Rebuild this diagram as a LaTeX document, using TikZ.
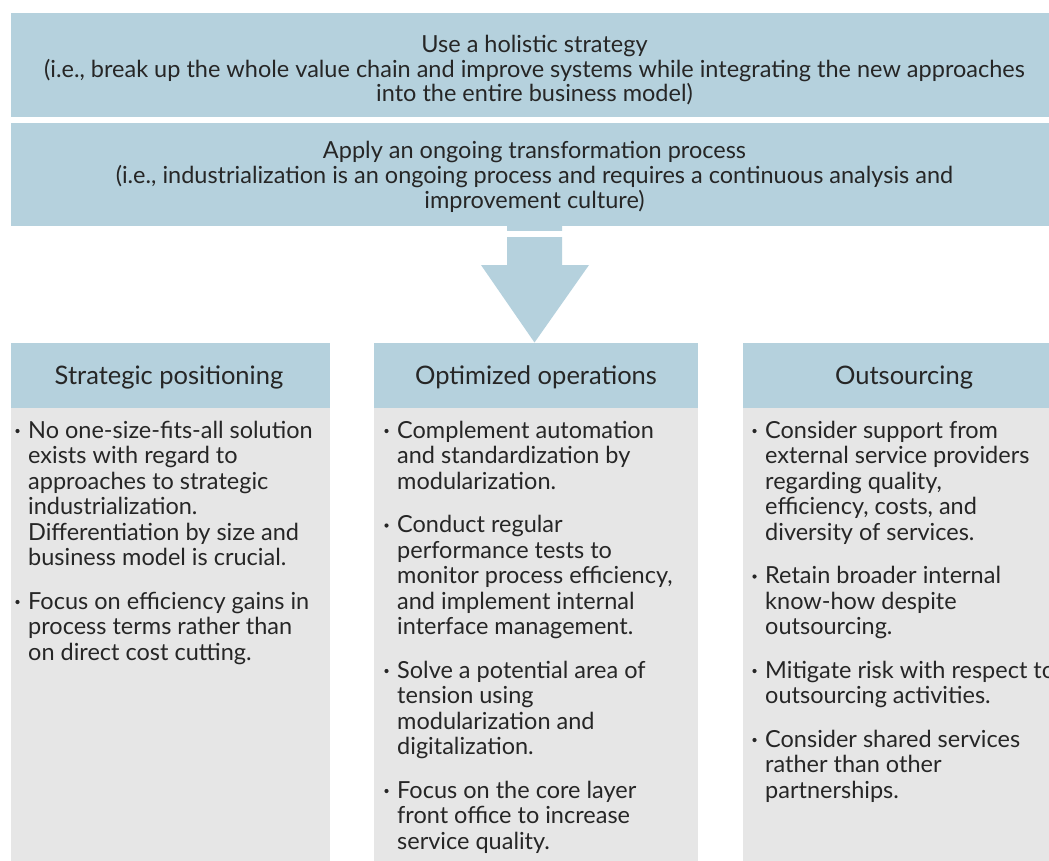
\documentclass[tikz,border=0pt]{standalone}
\usepackage{fontspec}
\setmainfont{Lato}
\definecolor{hblue}{RGB}{181,209,221}
\definecolor{bgray}{RGB}{230,230,230}
\definecolor{ink}{RGB}{38,38,38}
\tikzset{
  blk/.style={draw=none, inner sep=0pt, outer sep=0pt, anchor=north west},
  txt/.style={inner sep=0pt, anchor=base west, text=ink, font=\fontsize{23.5}{25}\selectfont},
  toptxt/.style={inner sep=0pt, anchor=base, text=ink, font=\fontsize{23.5}{24}\selectfont},
  hdtxt/.style={inner sep=0pt, anchor=base, text=ink, font=\fontsize{25.5}{26}\selectfont},
  bul/.style={circle, fill=ink, inner sep=0pt, minimum size=4.2pt}
}
\newcommand\bitem[4]{%
  \node[bul] (#1b) at (#2-10.5,#3-7) {};
  \foreach \t [count=\i] in {#4} \node[txt] (#1l\i) at (#2, #3+\i*25.5-25.5) {\t};
}
\begin{document}
\begin{tikzpicture}[x=1pt,y=-1pt]
\clip (0,0) rectangle (1049,860);
\fill[white] (0,0) rectangle (1049,860);
% top boxes
\node[blk, fill=hblue, minimum width=1049pt, minimum height=104pt] (top1) at (10.5,13) {};
\node[blk, fill=hblue, minimum width=1049pt, minimum height=103pt] (top2) at (10.5,123) {};
\node[toptxt] (t1a) at (534.5,52.5) {Use a holistic strategy};
\node[toptxt] (t1b) at (534.5,77) {(i.e., break up the whole value chain and improve systems while integrating the new approaches};
\node[toptxt] (t1c) at (534.5,101.5) {into the entire business model)};
\node[toptxt] (t2a) at (534.5,158.5) {Apply an ongoing transformation process};
\node[toptxt] (t2b) at (534.5,183.5) {(i.e., industrialization is an ongoing process and requires a continuous analysis and};
\node[toptxt] (t2c) at (534.5,208) {improvement culture)};
% column headers and bodies
\node[blk, fill=hblue, minimum width=319.5pt, minimum height=65pt] (h1) at (10.5,343) {};
\node[blk, fill=hblue, minimum width=324pt, minimum height=65pt] (h2) at (374,343) {};
\node[blk, fill=hblue, minimum width=322pt, minimum height=65pt] (h3) at (743,343) {};
\node[blk, fill=bgray, minimum width=319.5pt, minimum height=460pt] (b1) at (10.5,408) {};
\node[blk, fill=bgray, minimum width=324pt, minimum height=460pt] (b2) at (374,408) {};
\node[blk, fill=bgray, minimum width=322pt, minimum height=460pt] (b3) at (743,408) {};
\node[hdtxt] (h1t) at (169,384) {Strategic positioning};
\node[hdtxt] (h2t) at (536,384) {Optimized operations};
\node[hdtxt] (h3t) at (904,384) {Outsourcing};
% arrow from top2 to h2
\coordinate (as) at (534.5,226);
\coordinate (at) at (534.5,342.5);
\fill[hblue] (as) ++(-27.5,0) -- ++(55,0) -- (562,265) -- (589,265) -- (at) -- (481,265) -- (507,265) -- cycle;
\fill[white] (505,231) rectangle (564,236.5);
% column 1
\bitem{ca}{28}{438}{{No one-size-fits-all solution},{exists with regard to},{approaches to strategic},{industrialization.},{Differentiation by size and},{business model is crucial.}}
\bitem{cb}{28}{609}{{Focus on efficiency gains in},{process terms rather than},{on direct cost cutting.}}
% column 2
\bitem{da}{397}{438}{{Complement automation},{and standardization by},{modularization.}}
\bitem{db}{397}{532.5}{{Conduct regular},{performance tests to},{monitor process efficiency,},{and implement internal},{interface management.}}
\bitem{dc}{397}{678}{{Solve a potential area of},{tension using},{modularization and},{digitalization.}}
\bitem{dd}{397}{798}{{Focus on the core layer},{front office to increase},{service quality.}}
% column 3
\bitem{ea}{765}{438}{{Consider support from},{external service providers},{regarding quality,},{efficiency, costs, and},{diversity of services.}}
\bitem{eb}{765}{583.5}{{Retain broader internal},{know-how despite},{outsourcing.}}
\bitem{ec}{765}{678}{{Mitigate risk with respect to},{outsourcing activities.}}
\bitem{ed}{765}{747}{{Consider shared services},{rather than other},{partnerships.}}
\end{tikzpicture}
\end{document}
